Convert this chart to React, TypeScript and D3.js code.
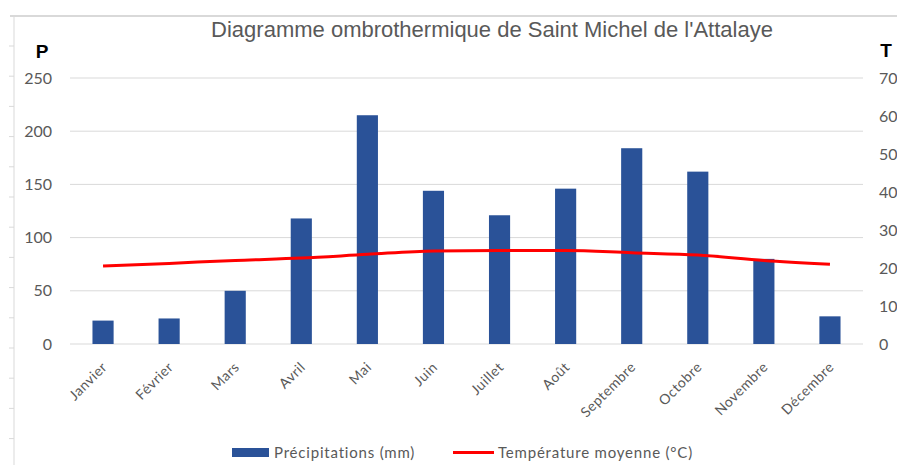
import React from 'react';
import * as d3 from 'd3';

const months = ['Janvier', 'Février', 'Mars', 'Avril', 'Mai', 'Juin', 'Juillet', 'Août', 'Septembre', 'Octobre', 'Novembre', 'Décembre'];
const precip = [22, 24, 50, 118, 215, 144, 121, 146, 184, 162, 80, 26];
const temp = [20.5, 21.2, 22, 22.6, 23.6, 24.5, 24.6, 24.6, 24, 23.4, 22, 21];
const pTicks = [0, 50, 100, 150, 200, 250];
const tTicks = [0, 10, 20, 30, 40, 50, 60, 70];

const W = 897;
const H = 465;
const left = 70;
const right = 863;
const top = 78;
const bottom = 344;

const grey = '#595959';
const blue = '#2a5298';
const red = '#ff0000';

export default function App() {
  const x = d3.scaleBand().domain(months).range([left, right]);
  const yP = d3.scaleLinear().domain([0, 250]).range([bottom, top]);
  const yT = d3.scaleLinear().domain([0, 70]).range([bottom, top]);
  const barW = x.bandwidth() * 0.32;

  const line = d3.line<number>()
    .x((d, i) => (x(months[i]) as number) + x.bandwidth() / 2)
    .y(d => yT(d))
    .curve(d3.curveMonotoneX);

  // decorative frame ticks at the left edge
  const frameTicks = d3.range(46, H, 30.2);

  return (
    <div style={{ position: 'absolute', left: 0, top: 0 }}>
      <svg width={W} height={H} style={{ display: 'block', background: '#fff' }}>
        <line x1={10} x2={W} y1={16} y2={16} stroke="#d9d9d9" strokeWidth={2} />
        <line x1={14} x2={14} y1={17} y2={H} stroke="#d9d9d9" strokeWidth={1} />
        {frameTicks.map(t => (
          <line key={t} x1={9} x2={14} y1={t} y2={t} stroke="#d9d9d9" />
        ))}

        <text x={492} y={37} textAnchor="middle" fontFamily="Liberation Sans, Arial, sans-serif" fontSize={22} fill={grey}>
          Diagramme ombrothermique de Saint Michel de l'Attalaye
        </text>

        {pTicks.map(t => (
          <g key={'p' + t}>
            <line x1={left} x2={right} y1={yP(t)} y2={yP(t)} stroke="#d9d9d9" strokeWidth={1} />
            <text x={52} y={yP(t)} dy="0.35em" textAnchor="end" fontFamily="Lato, sans-serif" fontSize={16} fill={grey}>{t}</text>
          </g>
        ))}
        {tTicks.map(t => (
          <text key={'t' + t} x={879} y={yT(t)} dy="0.35em" textAnchor="start" fontFamily="Lato, sans-serif" fontSize={16} fill={grey}>{t}</text>
        ))}

        <text x={42} y={58} textAnchor="middle" fontFamily="Liberation Sans, Arial, sans-serif" fontWeight="bold" fontSize={19} fill="#000">P</text>
        <text x={886} y={57} textAnchor="middle" fontFamily="Liberation Sans, Arial, sans-serif" fontWeight="bold" fontSize={19} fill="#000">T</text>

        {precip.map((v, i) => (
          <rect key={months[i]}
            x={(x(months[i]) as number) + (x.bandwidth() - barW) / 2}
            y={yP(v)}
            width={barW}
            height={yP(0) - yP(v)}
            fill={blue} />
        ))}

        <path d={line(temp) || ''} fill="none" stroke={red} strokeWidth={3} />

        {months.map(m => {
          const cx = (x(m) as number) + x.bandwidth() / 2 + 5;
          const cy = bottom + 24;
          return (
            <text key={'l' + m} x={cx} y={cy} textAnchor="end" transform={`rotate(-45, ${cx}, ${cy})`}
              fontFamily="Lato, sans-serif" fontSize={14} letterSpacing={0.5} fill={grey}>{m}</text>
          );
        })}

        <rect x={232} y={448} width={37} height={9} fill={blue} />
        <text x={274} y={452.5} dy="0.35em" fontFamily="Lato, sans-serif" fontSize={15} letterSpacing={0.8} fill={grey}>Précipitations (mm)</text>
        <line x1={453} x2={494} y1={452.5} y2={452.5} stroke={red} strokeWidth={3} />
        <text x={498} y={452.5} dy="0.35em" fontFamily="Lato, sans-serif" fontSize={15} letterSpacing={0.8} fill={grey}>Température moyenne (°C)</text>
      </svg>
    </div>
  );
}
